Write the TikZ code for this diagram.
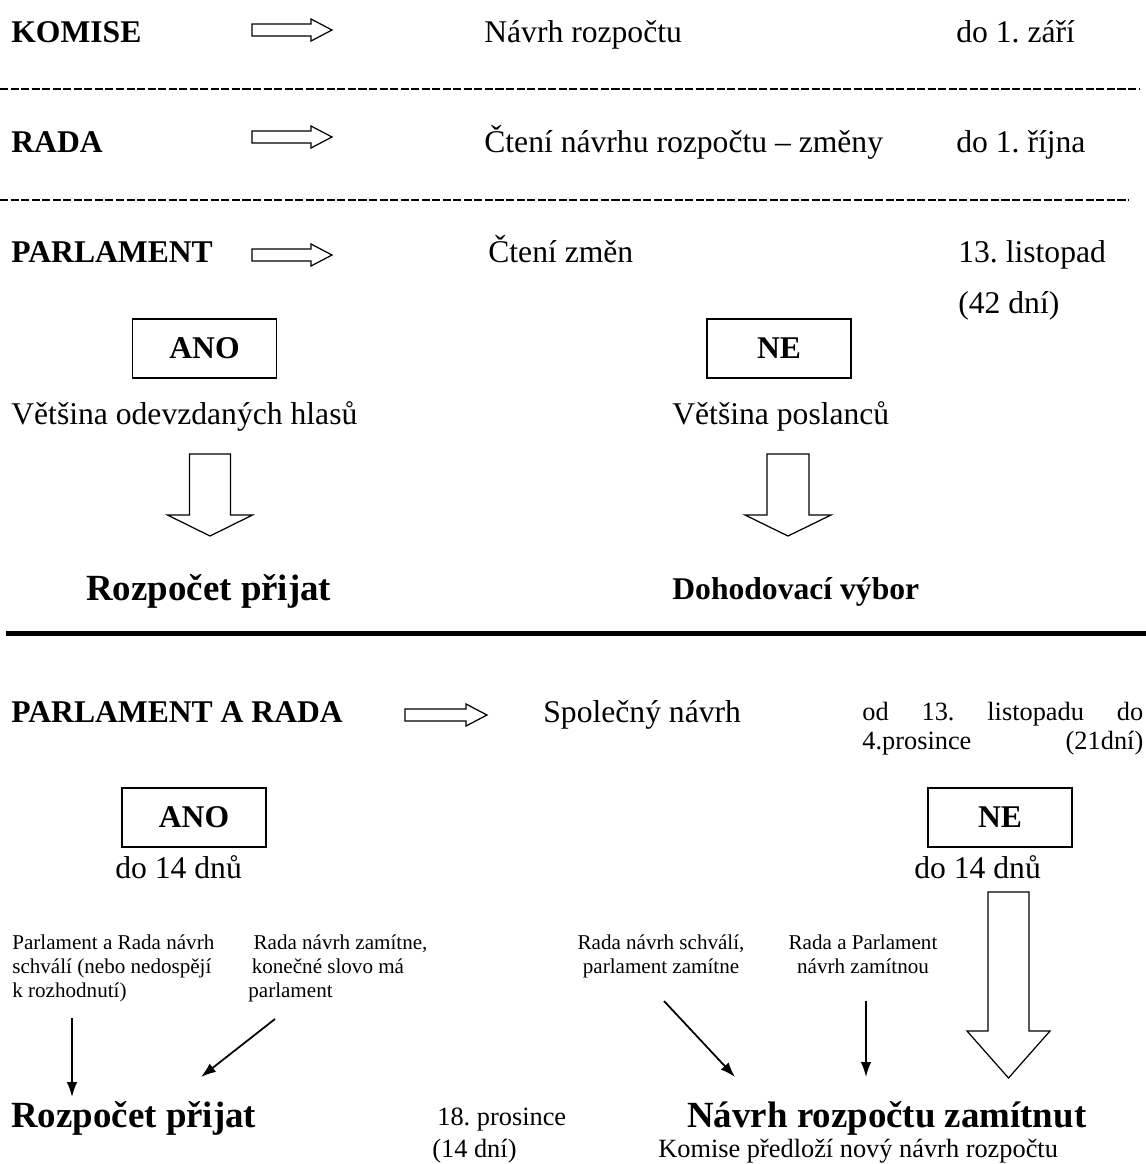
\documentclass[tikz,border=0pt]{standalone}
\usepackage{fontspec}
\setmainfont{Liberation Serif}
\usetikzlibrary{arrows.meta}
\frenchspacing

\begin{document}
\begin{tikzpicture}[x=0.02cm, y=-0.02cm,
    txt/.style={anchor=base west, inner sep=0pt, font=\fontsize{18}{21}\selectfont},
    hd/.style={txt, font=\fontsize{18}{21}\selectfont\bfseries},
    big/.style={txt, font=\fontsize{21}{25}\selectfont\bfseries},
    note/.style={txt, font=\fontsize{15}{17}\selectfont},
    small/.style={anchor=north west, inner sep=0pt, align=left, font=\fontsize{12}{13.6}\selectfont,
                  execute at begin node={\rule{0pt}{10pt}}},
    smallc/.style={small, anchor=north, align=center},
    vote/.style={rectangle, draw, line width=0.9pt, minimum width=2.88cm, minimum height=1.18cm,
                 inner sep=0pt, font=\fontsize{18}{21}\selectfont\bfseries},
    rule/.style={line width=1.5pt, dash pattern=on 4.6pt off 1.4pt},
    fat/.style={draw, line width=0.7pt, fill=white},
    pijl/.style={-{Latex[length=8.5pt,width=6pt]}, line width=1pt}
]
    \useasboundingbox (0,0) rectangle (1146,1164);

    % Budget calendar rows
    \node[hd] (komise) at (11,42) {KOMISE};
    \node[txt] (navrh) at (484,42) {Návrh rozpočtu};
    \node[txt] (zari) at (956,42) {do 1. září};
    \draw[rule] (0,89) -- (1140,89);

    \node[hd] (rada) at (11,152) {RADA};
    \node[txt] (cteni) at (484,152) {Čtení návrhu rozpočtu – změny};
    \node[txt] (rijen) at (956,152) {do 1. října};
    \draw[rule] (0,200) -- (1129,200);

    \node[hd] (parl) at (11,262) {PARLAMENT};
    \node[txt] (zmeny) at (488,262) {Čtení změn};
    \node[txt] (listopad) at (958,262) {13. listopad};
    \node[txt] (dni42) at (958,313) {(42 dní)};

    % Outline arrows in the rows
    \draw[fat] (252,24) -- (311,24) -- (311,19) -- (332,30) -- (311,41) -- (311,36) -- (252,36) -- cycle;
    \draw[fat] (252,131) -- (311,131) -- (311,126) -- (332,137) -- (311,148) -- (311,143) -- (252,143) -- cycle;
    \draw[fat] (252,249) -- (311,249) -- (311,244) -- (332,255) -- (311,266) -- (311,261) -- (252,261) -- cycle;

    % Parliament vote
    \node[vote] (ano1) at (204.5,348.5) {ANO};
    \node[vote] (ne1) at (779,348.5) {NE};
    \node[txt] (hlasy) at (11,424) {Většina odevzdaných hlasů};
    \node[txt] (poslanci) at (672,424) {Většina poslanců};

    \draw[fat] (189.5,454) -- (230.5,454) -- (230.5,515) -- (252.5,515) -- (210,536) -- (167.5,515) -- (189.5,515) -- cycle;
    \draw[fat] (767,454) -- (809,454) -- (809,515) -- (831,515) -- (788,536) -- (745,515) -- (767,515) -- cycle;

    \node[big] (prijat1) at (86,600) {Rozpočet přijat};
    \node[hd] (vybor) at (672,599) {Dohodovací výbor};

    \draw[line width=2.8pt] (6,633.5) -- (1146,633.5);

    % Conciliation committee
    \node[hd] (parlrada) at (11,722) {PARLAMENT A RADA};
    \draw[fat] (405,709) -- (466,709) -- (466,704) -- (487,715) -- (466,726) -- (466,721) -- (405,721) -- cycle;
    \node[txt] (spolecny) at (543,722) {Společný návrh};
    \node[note, text width=5.62cm, align=left] (lhuta) at (862,720)
        {od\hfill 13.\hfill listopadu\hfill do\\4.prosince\hfill(21dní)};

    \node[vote] (ano2) at (194,817.5) {ANO};
    \node[txt] (dny1) at (115,878) {do 14 dnů};
    \node[vote] (ne2) at (1000,817.5) {NE};
    \node[txt] (dny2) at (914,878) {do 14 dnů};

    \node[small] (c1) at (12,934.5) {Parlament a Rada návrh\\schválí (nebo nedospějí\\k rozhodnutí)};
    \node[small] (c2) at (248,934.5) {\hspace{3pt}Rada návrh zamítne,\\\hspace{2pt}konečné slovo má\\parlament};
    \node[smallc] (c3) at (661,934.5) {Rada návrh schválí,\\parlament zamítne};
    \node[smallc] (c4) at (863,934.5) {Rada a Parlament\\návrh zamítnou};

    \coordinate (c1s) at (72,1018);
    \coordinate (c1e) at (72,1097);
    \coordinate (c2s) at (275,1019);
    \coordinate (c2e) at (201,1077);
    \coordinate (c3s) at (664,1001);
    \coordinate (c3e) at (735,1077);
    \coordinate (c4s) at (866,1001);
    \coordinate (c4e) at (866,1077);
    \draw[pijl] (c1s) -- (c1e);
    \draw[pijl] (c2s) -- (c2e);
    \draw[pijl] (c3s) -- (c3e);
    \draw[pijl] (c4s) -- (c4e);

    \draw[fat] (988,892) -- (1029,892) -- (1029,1031) -- (1050,1031) -- (1008.5,1078) -- (967,1031) -- (988,1031) -- cycle;

    \node[big] (prijat2) at (11,1127) {Rozpočet přijat};
    \node[note] (prosinec) at (437,1125) {18. prosince};
    \node[note] (dni14) at (432,1157) {(14 dní)};
    \node[big] (zamitnut) at (687,1127) {Návrh rozpočtu zamítnut};
    \node[note] (komise2) at (658,1157) {Komise předloží nový návrh rozpočtu};

\end{tikzpicture}
\end{document}
